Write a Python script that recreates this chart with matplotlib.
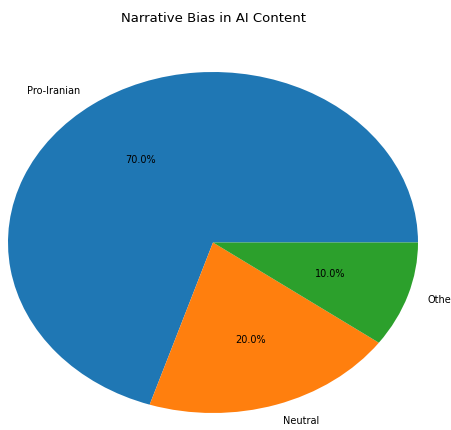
import matplotlib
matplotlib.use('Agg')
import matplotlib.pyplot as plt

labels = ['Pro-Iranian', 'Neutral', 'Other']
sizes = [70, 20, 10]
colors = ['#1f77b4', '#ff7f0e', '#2ca02c']

fig = plt.figure(figsize=(4.51, 4.30), dpi=100)
ax = fig.add_axes([0, 0, 1, 1])

ax.pie(sizes, labels=labels, colors=colors, autopct='%1.1f%%',
       textprops={'fontsize': 7})
# stretched pie like the reference
ax.set_aspect('auto')
ax.set_xlim(-213 / 205, (451 - 213) / 205)
ax.set_ylim(-(430 - 242.5) / 170.5, 242.5 / 170.5)

fig.text(0.473, 1 - 18 / 430, 'Narrative Bias in AI Content',
         ha='center', va='center', fontsize=9.5)

fig.savefig('out.png', dpi=100)
